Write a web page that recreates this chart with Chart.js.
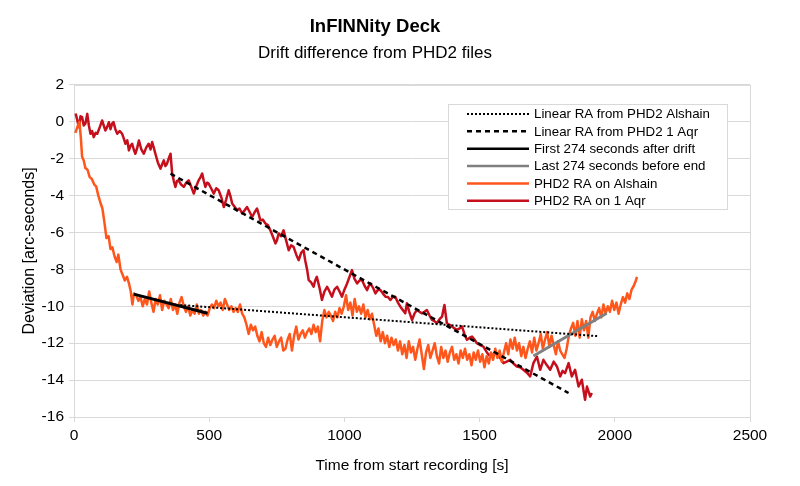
<!DOCTYPE html>
<html lang="en">
<head>
<meta charset="UTF-8">
<title>InFINNity Deck</title>
<script src="https://cdn.jsdelivr.net/npm/chart.js@4.4.1/dist/chart.umd.min.js"></script>
<style>
  body { margin: 0; background: #fff; }
  #wrap { width: 800px; height: 486px; }
</style>
</head>
<body>
<div id="wrap"><canvas id="drift" width="800" height="486"></canvas></div>
<script>
// PHD2 RA on Alshain
const alshainT = [5,12,20,25,30,36,42,50,58,66,75,82,90,98,105,112,120,128,135,142,150,158,164,172,180,188,196,204,210,216,
  222,230,238,246,254,262,270,278,286,294,302,310,318,326,334,342,350,358,366,374,382,390,398,406,414,422,430,438,446,454,
  462,470,478,486,494,502,510,518,526,534,542,550,558,566,574,582,590,598,606,614,622,630,638,646,654,662,670,678,686,694,
  702,710,718,726,734,742,750,758,766,774,782,790,798,806,814,822,830,838,846,854,862,870,878,886,894,902,910,918,926,934,
  942,950,958,966,974,982,990,998,1006,1014,1022,1030,1038,1046,1054,1062,1070,1078,1086,1094,1102,1110,1118,1126,1134,1142,1150,1158,1166,1174,
  1182,1190,1198,1206,1214,1222,1230,1238,1246,1254,1262,1270,1278,1286,1294,1302,1310,1318,1326,1334,1342,1350,1358,1366,1374,1382,1390,1398,1406,1414,
  1422,1430,1438,1446,1454,1462,1470,1478,1486,1494,1502,1510,1518,1526,1534,1542,1550,1558,1566,1574,1582,1590,1598,1606,1614,1622,1630,1638,1646,1654,
  1662,1670,1678,1686,1694,1702,1710,1718,1726,1734,1742,1750,1758,1766,1774,1782,1790,1798,1806,1814,1822,1830,1838,1846,1854,1862,1870,1878,1886,1894,
  1902,1910,1918,1926,1934,1942,1950,1958,1966,1974,1982,1990,1998,2006,2014,2022,2030,2038,2046,2054,2062,2070,2078,2082];
const alshainRA = [-0.6,-0.3,0.0,-0.8,-1.9,-2.1,-2.5,-2.6,-3.0,-3.1,-3.4,-3.5,-4.0,-4.4,-4.7,-5.4,-6.3,-6.2,-6.9,-6.8,-7.3,-7.6,-7.2,-8.0,-8.3,-8.6,-8.4,-8.8,-9.2,-9.9,
  -9.3,-9.4,-9.7,-9.5,-10.0,-9.6,-9.9,-9.2,-9.8,-10.3,-9.6,-9.9,-9.4,-10.2,-9.7,-9.9,-10.1,-9.6,-10.2,-9.9,-10.4,-9.8,-9.5,-10.0,-10.3,-10.0,-10.5,-10.2,-10.4,-9.9,
  -10.4,-10.2,-10.5,-10.3,-10.5,-10.1,-9.9,-10.1,-9.7,-10.0,-9.8,-10.2,-9.6,-9.9,-10.2,-10.0,-10.3,-10.1,-10.3,-9.9,-10.4,-10.6,-11.0,-11.5,-11.0,-11.3,-11.1,-11.6,-11.9,-11.4,
  -12.0,-12.2,-11.7,-12.1,-11.8,-11.6,-12.2,-11.9,-11.7,-12.4,-12.3,-11.8,-11.5,-12.4,-11.6,-11.1,-11.8,-11.5,-11.3,-11.7,-11.4,-11.2,-11.5,-11.0,-11.4,-11.1,-11.9,-10.8,-10.2,-10.6,
  -10.3,-10.5,-10.8,-10.3,-10.6,-10.1,-10.4,-10.0,-9.4,-10.2,-9.8,-10.5,-9.6,-10.3,-10.0,-10.4,-9.9,-10.6,-10.2,-10.7,-10.4,-11.0,-11.6,-11.2,-11.9,-11.4,-12.0,-11.6,-12.2,-11.7,
  -12.1,-11.8,-12.4,-11.9,-12.6,-12.1,-12.8,-11.9,-12.5,-12.2,-12.9,-12.3,-11.8,-12.6,-13.4,-12.5,-12.1,-12.8,-12.4,-12.0,-12.7,-13.1,-12.2,-12.8,-12.4,-13.0,-12.5,-12.2,-12.9,-12.6,
  -13.1,-12.4,-12.8,-12.3,-12.9,-12.6,-13.2,-12.5,-12.9,-12.4,-13.0,-12.6,-13.3,-12.7,-13.1,-12.5,-12.9,-12.3,-12.8,-12.4,-13.0,-12.5,-12.0,-12.6,-11.8,-12.3,-11.7,-12.4,-12.0,-12.7,
  -12.2,-12.8,-12.3,-11.9,-12.5,-11.7,-12.4,-12.0,-11.5,-12.3,-11.8,-11.4,-12.2,-11.6,-12.1,-12.6,-11.9,-12.4,-12.6,-12.8,-12.3,-11.6,-11.2,-10.9,-11.6,-10.8,-11.7,-10.7,-11.3,-10.8,
  -11.7,-10.6,-10.3,-10.8,-10.4,-10.1,-10.6,-9.9,-10.4,-10.0,-10.3,-9.7,-10.2,-9.8,-10.4,-9.9,-9.5,-9.8,-9.3,-9.6,-9.1,-8.9,-8.6,-8.4];

// PHD2 RA on 1 Aqr
const aqrT = [6,12,18,24,30,36,42,49,55,61,67,73,80,86,95,104,110,116,122,129,135,141,146,153,160,169,178,184,190,197,
  203,209,215,221,227,234,240,249,258,267,276,283,289,295,301,310,320,326,332,338,344,350,357,363,369,375,381,387,396,406,
  415,424,433,443,452,461,468,474,480,486,492,498,507,517,526,535,545,554,563,572,578,585,594,603,612,622,631,640,650,659,
  668,677,683,689,698,708,717,726,735,745,751,757,766,775,784,794,803,812,822,831,840,849,855,862,868,877,886,892,898,908,
  917,926,936,945,954,963,973,982,991,1000,1010,1019,1028,1037,1047,1056,1065,1075,1084,1090,1096,1106,1115,1124,1133,1142,1152,1161,1170,1179,
  1188,1198,1207,1216,1225,1231,1240,1250,1259,1268,1278,1287,1296,1305,1315,1324,1333,1342,1352,1361,1366,1370,1375,1379,1389,1398,1407,1416,1426,1435,
  1444,1453,1463,1472,1481,1490,1502,1514,1527,1539,1551,1564,1576,1588,1600,1613,1625,1638,1650,1662,1675,1687,1699,1712,1724,1736,1749,1761,1774,1786,
  1798,1807,1816,1829,1841,1853,1866,1878,1890,1897,1909,1915];
const aqrRA = [0.45,0.1,-0.3,0.3,0.25,-0.2,-0.1,0.43,-0.2,-0.65,-0.5,-0.83,-0.6,-0.65,-0.3,0.07,-0.2,-0.47,-0.3,-0.02,-0.4,-0.1,-0.02,-0.4,-0.65,-0.5,-0.65,-0.9,-1.19,-1.0,
  -1.55,-1.3,-1.19,-1.5,-1.73,-1.4,-1.01,-1.5,-1.73,-1.4,-1.19,-1.5,-1.1,-1.4,-1.73,-2.2,-2.54,-2.3,-2.09,-2.4,-2.27,-2.0,-1.73,-2.81,-3.2,-3.53,-3.2,-3.17,-3.4,-3.53,
  -3.3,-3.17,-3.5,-3.89,-3.5,-3.17,-3.0,-2.81,-3.2,-3.53,-3.3,-3.35,-3.6,-3.89,-3.6,-3.71,-4.1,-4.62,-4.2,-3.71,-4.0,-4.43,-4.6,-4.79,-4.7,-4.97,-4.8,-4.62,-4.9,-5.16,
  -4.9,-4.7,-5.0,-5.34,-5.3,-5.51,-5.6,-5.88,-6.2,-6.59,-6.4,-6.05,-6.2,-5.88,-6.4,-6.96,-6.7,-6.78,-7.2,-7.5,-7.1,-6.96,-7.5,-8.0,-8.58,-8.7,-8.94,-8.6,-8.4,-9.0,
  -9.66,-9.2,-8.94,-9.2,-9.48,-9.1,-8.94,-9.2,-9.48,-9.1,-8.76,-8.4,-8.04,-8.5,-8.76,-8.6,-8.58,-8.9,-9.12,-8.9,-8.76,-9.0,-9.3,-9.1,-9.12,-9.3,-9.48,-9.5,-9.66,-9.5,
  -9.48,-9.8,-10.02,-10.2,-10.38,-9.84,-10.3,-10.74,-10.4,-10.2,-10.3,-10.38,-10.3,-10.2,-10.5,-10.74,-10.8,-10.92,-10.7,-10.56,-10.2,-9.93,-10.5,-10.92,-11.0,-11.1,-11.2,-11.28,-11.2,-11.1,
  -11.5,-11.82,-11.7,-11.64,-11.8,-12.0,-12.1,-12.18,-12.5,-12.72,-12.6,-12.54,-12.8,-13.08,-13.0,-12.9,-13.1,-13.26,-13.3,-13.44,-13.6,-13.8,-13.08,-12.72,-13.44,-12.9,-13.2,-13.44,-13.0,-13.26,
  -13.8,-13.5,-13.62,-13.08,-13.8,-13.44,-14.35,-13.98,-15.07,-14.35,-14.89,-14.7];

// straight fits, end points only
const linAlshainT = [393, 1940];
const linAlshainRA = [-9.93, -11.62];
const linAqrT = [357, 1829];
const linAqrRA = [-2.81, -14.7];
const firstT = [221, 494];
const firstRA = [-9.34, -10.38];
const lastT = [1699, 1970];
const lastRA = [-12.69, -10.38];

const xTicks = [0, 500, 1000, 1500, 2000, 2500];
const yTicks = [-16, -14, -12, -10, -8, -6, -4, -2, 0, 2];

const pts = (t, v) => t.map((x, i) => ({ x: x, y: v[i] }));
const FONT = 'Liberation Sans, Arial, sans-serif';
const GRID = '#d9d9d9';

// frame around the plot and the boxed legend inside it
const frameLegend = {
  id: 'frameLegend',
  beforeDatasetsDraw(chart) {
    const a = chart.chartArea, c = chart.ctx;
    c.save();
    c.strokeStyle = GRID;
    c.lineWidth = 1;
    c.strokeRect(a.left + 0.5, a.top + 0.5, a.right - a.left, a.bottom - a.top);
    c.restore();
  },
  afterDraw(chart) {
    const c = chart.ctx;
    const bx = 448, by = 104, bw = 279, bh = 105;
    c.save();
    c.fillStyle = '#fff';
    c.fillRect(bx, by, bw, bh);
    c.strokeStyle = GRID;
    c.lineWidth = 1;
    c.strokeRect(bx + 0.5, by + 0.5, bw, bh);
    c.font = '13.3px ' + FONT;
    c.textBaseline = 'middle';
    chart.data.datasets.forEach((ds, i) => {
      const y = 114 + i * 17.35;
      c.strokeStyle = ds.borderColor;
      c.lineWidth = Math.min(ds.borderWidth, 2.5);
      c.setLineDash(ds.borderDash || []);
      c.beginPath();
      c.moveTo(467, y);
      c.lineTo(529, y);
      c.stroke();
      c.setLineDash([]);
      c.fillStyle = '#000';
      c.fillText(ds.label, 534, y + 0.5);
    });
    c.restore();
  }
};

new Chart(document.getElementById('drift'), {
  type: 'line',
  data: {
    datasets: [
      { label: 'Linear RA from PHD2 Alshain', data: pts(linAlshainT, linAlshainRA),
        borderColor: '#000', borderWidth: 2, borderDash: [2, 2] },
      { label: 'Linear RA from PHD2 1 Aqr', data: pts(linAqrT, linAqrRA),
        borderColor: '#000', borderWidth: 2.5, borderDash: [5, 4] },
      { label: 'First 274 seconds after drift', data: pts(firstT, firstRA),
        borderColor: '#000', borderWidth: 3 },
      { label: 'Last 274 seconds before end', data: pts(lastT, lastRA),
        borderColor: '#808080', borderWidth: 3 },
      { label: 'PHD2 RA on Alshain', data: pts(alshainT, alshainRA),
        borderColor: '#ff561c', borderWidth: 2.5 },
      { label: 'PHD2 RA on 1 Aqr', data: pts(aqrT, aqrRA),
        borderColor: '#c50f1c', borderWidth: 2.5 }
    ]
  },
  options: {
    responsive: false,
    animation: false,
    devicePixelRatio: 1,
    elements: { point: { radius: 0 }, line: { tension: 0, borderJoinStyle: 'round' } },
    layout: { padding: { left: 0, right: 50, top: 0, bottom: 0 } },
    plugins: {
      legend: { display: false },
      tooltip: { enabled: false },
      title: {
        display: true, text: 'InFINNity Deck', color: '#000',
        font: { family: FONT, size: 18.5, weight: 'bold' },
        padding: { top: 16, bottom: 4 }
      },
      subtitle: {
        display: true, text: 'Drift difference from PHD2 files', color: '#000',
        font: { family: FONT, size: 17 },
        padding: { top: 1.3, bottom: 21 }
      }
    },
    scales: {
      x: {
        type: 'linear', min: 0, max: 2500,
        afterBuildTicks: s => { s.ticks = xTicks.map(v => ({ value: v })); },
        afterFit: s => { s.height = 69; },
        ticks: { color: '#000', font: { family: FONT, size: 15.5 }, padding: 4, callback: v => String(v) },
        grid: { drawOnChartArea: false, tickLength: 5, color: GRID },
        border: { color: GRID },
        title: { display: true, text: 'Time from start recording [s]', color: '#000',
          font: { family: FONT, size: 15.5 }, padding: { top: 0, bottom: 11 } }
      },
      y: {
        min: -16, max: 2,
        afterBuildTicks: s => { s.ticks = yTicks.map(v => ({ value: v })); },
        afterFit: s => { s.width = 74; },
        ticks: { color: '#000', font: { family: FONT, size: 15.5 }, padding: 5 },
        grid: { tickLength: 5, color: GRID },
        border: { color: GRID },
        title: { display: true, text: 'Deviation [arc-seconds]', color: '#000',
          font: { family: FONT, size: 16 }, padding: { top: 20, bottom: 0 } }
      }
    }
  },
  plugins: [frameLegend]
});
</script>
</body>
</html>
